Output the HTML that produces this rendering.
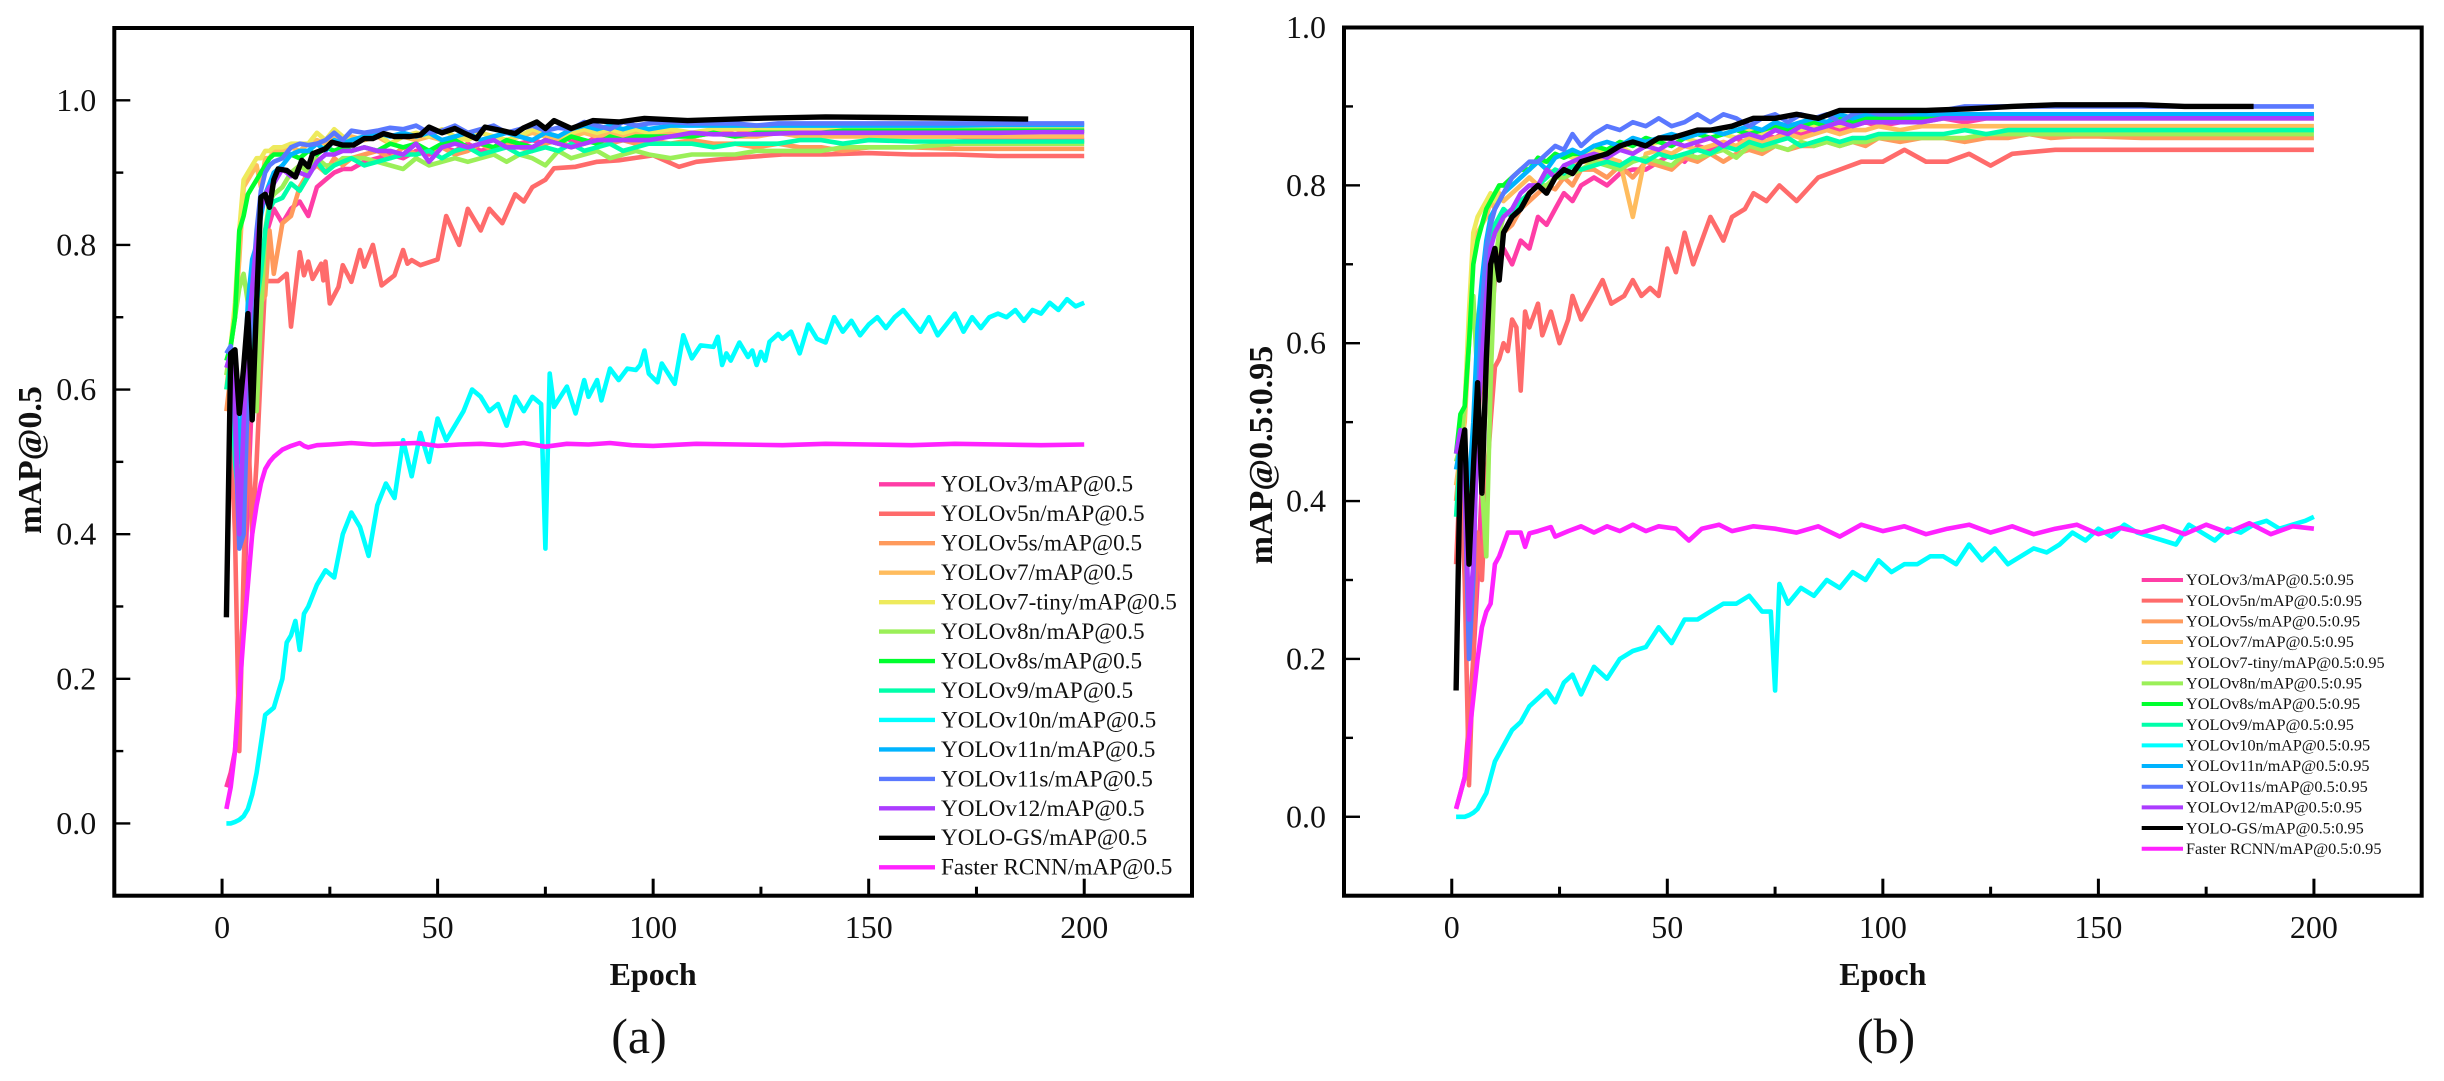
<!DOCTYPE html>
<html lang="en">
<head>
<meta charset="utf-8">
<title>mAP training curves</title>
<style>
html,body{margin:0;padding:0;background:#fff;}
svg{display:block;}
text{font-family:"Liberation Serif",serif;fill:#111;}
</style>
</head>
<body>
<svg id="figure" width="2444" height="1081" viewBox="0 0 2444 1081" xmlns="http://www.w3.org/2000/svg">
<rect width="2444" height="1081" fill="#fff"/>
<g id="panel-a"></g>
<g id="panel-b"></g>
</svg>
<script>
const seriesNames=['YOLOv3','YOLOv5n','YOLOv5s','YOLOv7','YOLOv7-tiny','YOLOv8n','YOLOv8s','YOLOv9','YOLOv10n','YOLOv11n','YOLOv11s','YOLOv12','YOLO-GS','Faster RCNN'];
const seriesColors=['#ff3da6','#ff6b6b','#ff9a5c','#ffbc5e','#eeea5c','#9bef58','#00ff2e','#00ffaa','#00ffff','#00b4ff','#5a78ff','#ac3cff','#000000','#ff22ff'];
const xTickValues=[0,50,100,150,200];
const xMinorValues=[25,75,125,175];
const yTicksA=[0,0.2,0.4,0.6,0.8,1.0];
const yMinorA=[0.1,0.3,0.5,0.7,0.9];
const yTicksB=[0,0.2,0.4,0.6,0.8,1.0];
const yMinorB=[0.1,0.3,0.5,0.7,0.9];

const sharedEpochs=[1,2,3,4,5,6,7,8,9,10,11,12,14,16,18,20,22,24,26,28,30,33,36,39,42,45,48,51,54,57,60,63,66,69,72,75,78,81,84,87,90,93,96,99,104,109,114,119,124,129,134,139,144,150,160,170,180,190,200];

/* Panel (a) mAP@0.5 */
const aV3=[.05,.07,.1,.2,.3,.45,.6,.7,.76,.81,.83,.85,.83,.85,.86,.84,.88,.89,.9,.905,.905,.915,.92,.925,.92,.93,.925,.935,.93,.94,.93,.935,.945,.94,.945,.94,.95,.945,.94,.95,.945,.95,.955,.95,.955,.95,.955,.96,.955,.955,.96,.96,.955,.95,.95,.95,.945,.945,.945];
const aV5nEpochs=[1,2,3,4,5,6,7,8,9,10,13,15,16,18,19,20,21,23,23.5,24,25,27,28,30,32,33,35,37,40,42,43,44,46,50,52,55,57,60,62,65,68,70,72,75,77,82,87,92,100,106,110,115,123,130,140,150,160,170,180,190,200];
const aV5n=[.3,.55,.4,.1,.35,.55,.4,.5,.63,.75,.75,.76,.687,.79,.758,.777,.753,.774,.751,.777,.719,.742,.772,.749,.793,.77,.8,.744,.758,.793,.774,.779,.772,.78,.84,.8,.85,.82,.85,.83,.87,.86,.88,.89,.906,.908,.915,.917,.924,.908,.915,.918,.922,.925,.925,.927,.925,.925,.923,.923,.923];
const aV5s=[.57,.62,.5,.42,.5,.6,.62,.66,.72,.73,.82,.76,.83,.84,.88,.9,.91,.9,.92,.91,.92,.925,.93,.92,.935,.925,.93,.935,.925,.93,.94,.93,.94,.935,.93,.94,.945,.935,.94,.945,.94,.945,.94,.945,.94,.945,.94,.94,.935,.94,.935,.935,.93,.935,.935,.933,.933,.933,.933];
const aV7=[.6,.66,.7,.78,.88,.89,.9,.91,.88,.92,.92,.93,.93,.935,.93,.94,.945,.94,.95,.945,.95,.945,.95,.94,.95,.945,.95,.945,.94,.95,.945,.95,.945,.95,.955,.95,.945,.95,.955,.95,.955,.95,.955,.95,.955,.95,.955,.95,.95,.955,.95,.95,.95,.95,.95,.95,.95,.95,.95];
const aTiny=[.62,.66,.72,.82,.89,.9,.91,.92,.92,.93,.93,.935,.935,.94,.94,.94,.955,.945,.96,.95,.945,.95,.955,.94,.95,.955,.95,.96,.95,.945,.955,.95,.945,.95,.96,.955,.95,.955,.96,.955,.96,.955,.96,.955,.96,.955,.96,.96,.96,.96,.96,.96,.96,.961,.961,.961,.961,.961,.961];
const aV8n=[.62,.66,.7,.74,.76,.72,.62,.57,.7,.82,.86,.87,.88,.9,.91,.9,.92,.91,.91,.92,.92,.92,.915,.91,.905,.92,.91,.915,.92,.915,.92,.925,.915,.925,.92,.91,.93,.92,.925,.93,.92,.925,.93,.925,.92,.925,.925,.925,.93,.93,.93,.93,.935,.935,.935,.94,.94,.94,.94];
const aV8s=[.64,.66,.7,.82,.84,.87,.88,.89,.9,.91,.92,.925,.925,.925,.92,.93,.925,.935,.93,.935,.93,.935,.93,.94,.935,.94,.93,.94,.945,.935,.94,.935,.945,.94,.935,.945,.94,.95,.945,.94,.95,.945,.95,.95,.95,.95,.955,.95,.955,.955,.955,.955,.958,.958,.958,.958,.958,.958,.958];
const aV9=[.6,.64,.5,.44,.56,.62,.66,.72,.76,.82,.85,.86,.865,.885,.875,.895,.915,.9,.91,.915,.92,.91,.915,.92,.925,.925,.93,.92,.93,.935,.925,.93,.935,.925,.93,.935,.93,.94,.93,.935,.94,.93,.935,.94,.94,.94,.935,.94,.94,.94,.945,.945,.94,.945,.943,.943,.943,.943,.943];
const aV10nEpochs=[1,2,3,4,5,6,7,8,9,10,11,12,13,14,15,16,17,18,19,20,22,24,26,28,30,32,34,36,38,40,42,44,46,48,50,52,54,56,58,60,62,64,66,68,70,72,74,75,76,77,80,82,84,85,87,88,90,92,94,96,97,98,99,101,102,105,107,109,111,114,115,116,117,118,120,122,123,124,125,126,127,129,130,132,134,136,138,140,142,144,146,148,150,152,154,156,158,160,162,164,166,168,170,172,174,176,178,180,182,184,186,188,190,192,194,196,198,200];
const aV10n=[0,0,.002,.005,.01,.02,.04,.07,.11,.15,.155,.16,.18,.2,.25,.26,.28,.24,.29,.3,.33,.35,.34,.4,.43,.41,.37,.44,.47,.45,.53,.48,.54,.5,.56,.53,.55,.57,.6,.59,.57,.58,.55,.59,.57,.59,.58,.38,.622,.576,.604,.567,.613,.59,.613,.585,.629,.613,.629,.627,.634,.654,.622,.61,.636,.608,.675,.643,.661,.659,.673,.634,.65,.64,.665,.645,.654,.634,.652,.64,.666,.677,.67,.68,.65,.69,.67,.665,.7,.68,.695,.675,.69,.7,.685,.7,.71,.695,.68,.7,.675,.69,.705,.68,.7,.685,.7,.705,.7,.71,.695,.71,.705,.72,.71,.725,.715,.72];
const aV11n=[.65,.66,.62,.5,.6,.72,.78,.8,.84,.87,.885,.9,.91,.925,.93,.93,.94,.93,.945,.94,.945,.95,.955,.95,.955,.95,.955,.945,.95,.955,.945,.95,.955,.95,.945,.955,.95,.96,.965,.96,.965,.96,.965,.96,.965,.965,.965,.965,.965,.965,.965,.965,.965,.965,.965,.965,.966,.966,.966];
const aV11s=[.65,.66,.55,.38,.4,.6,.74,.82,.875,.9,.91,.915,.92,.935,.94,.938,.94,.945,.955,.945,.958,.955,.958,.962,.96,.965,.955,.958,.965,.955,.96,.965,.955,.96,.965,.958,.962,.96,.97,.965,.96,.97,.965,.968,.97,.968,.968,.968,.965,.968,.968,.968,.968,.968,.968,.968,.968,.968,.968];
const aV12=[.63,.65,.58,.4,.55,.68,.74,.8,.85,.87,.88,.885,.905,.895,.9,.895,.915,.925,.925,.93,.93,.935,.93,.93,.925,.94,.915,.935,.94,.935,.94,.945,.935,.935,.935,.945,.94,.935,.94,.945,.945,.945,.945,.945,.95,.955,.953,.953,.953,.954,.955,.955,.955,.955,.955,.955,.955,.956,.956];
const aGsEpochs=[1,2,3,4,5,6,7,8,9,10,11,12,13,15,17,18.5,20,21,24,25.5,28,30.5,33,35,37.5,40,43.5,46,48,51,54,56,59,61,65,68,70,73,75,77,81,86,92,98,108,123,140,160,175,187];
const aGs=[.285,.65,.655,.567,.63,.705,.558,.72,.866,.87,.852,.89,.905,.903,.894,.917,.908,.926,.933,.942,.938,.938,.947,.947,.954,.95,.95,.952,.963,.955,.961,.955,.947,.963,.958,.954,.962,.97,.961,.972,.961,.972,.97,.975,.972,.975,.977,.976,.975,.974];
const aRcnnEpochs=[1,2,3,4,5,6,7,8,9,10,11,12,14,16,18,19,20,22,25,30,35,40,45,50,55,60,65,70,75,80,85,90,95,100,110,120,130,140,150,160,170,180,190,200];
const aRcnn=[.02,.05,.1,.18,.26,.33,.4,.44,.47,.49,.5,.507,.517,.522,.526,.522,.52,.523,.524,.526,.524,.525,.526,.522,.524,.525,.523,.526,.521,.525,.524,.526,.523,.522,.525,.524,.523,.525,.524,.523,.525,.524,.523,.524];

/* Panel (b) mAP@0.5:0.95 */
const bV3=[.01,.03,.05,.12,.2,.3,.42,.55,.62,.68,.7,.72,.7,.73,.72,.76,.75,.77,.79,.78,.8,.81,.8,.815,.82,.82,.83,.84,.83,.85,.845,.85,.86,.85,.865,.86,.87,.865,.87,.875,.87,.875,.88,.875,.88,.88,.885,.88,.885,.885,.885,.885,.885,.885,.885,.885,.885,.885,.885];
const bV5nEpochs=[1,2,3,4,5,6,7,8,9,10,11,12,13,14,15,16,17,18,20,21,23,25,27,28,30,33,35,37,40,42,44,46,48,50,52,54,56,58,60,63,65,68,70,73,76,80,85,90,95,100,105,110,115,120,125,130,140,150,170,200];
const bV5n=[.32,.44,.3,.04,.2,.36,.3,.42,.5,.57,.58,.6,.59,.63,.62,.54,.64,.62,.65,.61,.64,.6,.63,.66,.63,.66,.68,.65,.66,.68,.66,.67,.66,.72,.69,.74,.7,.73,.76,.73,.76,.77,.79,.78,.8,.78,.81,.82,.83,.83,.845,.83,.83,.84,.825,.84,.845,.845,.845,.845];
const bV5s=[.4,.46,.42,.34,.42,.5,.56,.6,.66,.7,.72,.74,.75,.77,.78,.79,.8,.795,.81,.8,.82,.82,.81,.825,.81,.83,.825,.82,.835,.83,.84,.83,.84,.845,.84,.85,.845,.85,.85,.855,.85,.855,.85,.86,.855,.86,.86,.855,.86,.86,.865,.86,.862,.862,.86,.86,.86,.86,.86];
const bV7=[.42,.46,.5,.6,.72,.74,.75,.76,.78,.77,.79,.78,.79,.8,.81,.8,.82,.815,.82,.825,.83,.83,.835,.83,.76,.84,.845,.84,.85,.845,.85,.855,.85,.86,.855,.86,.865,.86,.865,.87,.865,.87,.87,.875,.87,.875,.875,.875,.875,.875,.875,.875,.875,.875,.875,.875,.875,.875,.875];
const bTiny=[.44,.46,.52,.64,.74,.76,.77,.78,.79,.78,.8,.8,.81,.82,.82,.83,.83,.835,.84,.835,.84,.845,.84,.85,.84,.85,.855,.85,.86,.855,.86,.865,.86,.87,.865,.87,.875,.87,.875,.88,.875,.88,.88,.885,.885,.88,.885,.885,.885,.885,.885,.885,.885,.885,.885,.885,.885,.885,.885];
const bV8n=[.45,.47,.52,.6,.66,.55,.42,.33,.55,.7,.74,.76,.77,.78,.79,.8,.8,.81,.81,.815,.82,.83,.825,.82,.83,.835,.83,.825,.84,.835,.84,.845,.835,.85,.845,.85,.845,.855,.85,.855,.85,.855,.855,.86,.86,.86,.86,.86,.865,.865,.865,.865,.865,.865,.865,.865,.865,.865,.865];
const bV8s=[.46,.51,.52,.6,.7,.73,.75,.77,.78,.79,.8,.8,.81,.82,.82,.835,.83,.84,.835,.84,.84,.85,.845,.855,.85,.86,.855,.85,.86,.865,.86,.865,.87,.865,.87,.875,.87,.875,.88,.875,.885,.88,.885,.885,.885,.885,.89,.89,.89,.89,.89,.89,.89,.89,.89,.89,.89,.89,.89];
const bV9=[.38,.46,.42,.4,.46,.55,.62,.68,.72,.75,.76,.77,.76,.78,.79,.8,.81,.82,.815,.825,.82,.825,.83,.825,.835,.83,.84,.835,.84,.845,.84,.85,.845,.855,.85,.855,.86,.85,.855,.86,.855,.86,.86,.865,.865,.865,.865,.87,.865,.87,.87,.87,.87,.87,.87,.87,.87,.87,.87];
const bV10nEpochs=[1,2,3,4,5,6,7,8,9,10,12,14,16,18,20,22,24,26,28,30,33,36,39,42,45,48,51,54,57,60,63,66,69,72,74,75,76,78,81,84,87,90,93,96,99,102,105,108,111,114,117,120,123,126,129,132,135,138,141,144,147,150,153,156,159,162,165,168,171,174,177,180,183,186,189,192,195,198,200];
const bV10n=[0,0,0,.002,.005,.01,.02,.03,.05,.07,.09,.11,.12,.14,.15,.16,.145,.17,.18,.155,.19,.175,.2,.21,.215,.24,.22,.25,.25,.26,.27,.27,.28,.26,.26,.16,.295,.27,.29,.28,.3,.29,.31,.3,.325,.31,.32,.32,.33,.33,.32,.345,.325,.34,.32,.33,.34,.335,.345,.36,.35,.365,.355,.37,.36,.355,.35,.345,.37,.36,.35,.365,.36,.37,.375,.365,.37,.375,.38];
const bV11n=[.44,.47,.46,.42,.5,.62,.68,.73,.76,.77,.78,.79,.8,.81,.82,.83,.82,.835,.84,.845,.84,.85,.855,.85,.86,.855,.86,.865,.86,.865,.87,.865,.87,.875,.87,.88,.875,.88,.885,.88,.89,.885,.89,.89,.89,.89,.89,.89,.89,.89,.89,.89,.89,.89,.89,.89,.89,.89,.89];
const bV11s=[.46,.48,.42,.2,.3,.52,.64,.72,.75,.77,.78,.79,.81,.82,.83,.83,.84,.85,.845,.865,.85,.865,.875,.87,.88,.875,.885,.875,.88,.89,.88,.89,.885,.875,.885,.89,.88,.89,.885,.89,.88,.89,.895,.89,.89,.895,.895,.9,.9,.9,.9,.9,.9,.9,.9,.9,.9,.9,.9];
const bV12=[.46,.49,.42,.25,.32,.5,.58,.66,.72,.74,.75,.76,.77,.79,.8,.8,.82,.81,.825,.83,.835,.84,.835,.845,.84,.85,.845,.855,.85,.855,.86,.85,.86,.865,.86,.87,.865,.875,.87,.875,.88,.875,.88,.88,.88,.88,.885,.885,.885,.885,.885,.885,.885,.885,.885,.885,.885,.885,.885];
const bGsEpochs=[1,2,3,4,5,6,7,8,9,10,11,12,14,16,18,20,22,24,26,28,30,33,36,39,42,45,48,51,54,57,60,65,70,75,80,85,90,100,110,120,130,140,150,160,170,186];
const bGs=[.16,.46,.49,.32,.44,.55,.41,.58,.7,.72,.68,.74,.76,.77,.79,.8,.79,.81,.82,.815,.83,.835,.84,.85,.855,.85,.86,.86,.865,.87,.87,.875,.885,.885,.89,.885,.895,.895,.895,.897,.9,.902,.902,.902,.9,.9];
const bRcnnEpochs=[1,2,3,4,5,6,7,8,9,10,11,12,13,14,16,17,18,20,23,24,27,30,33,36,39,42,45,48,52,55,58,62,65,70,75,80,85,90,95,100,105,110,115,120,125,130,135,140,145,150,155,160,165,170,175,180,185,190,195,200];
const bRcnn=[.01,.03,.05,.1,.15,.2,.24,.26,.27,.32,.33,.345,.36,.36,.36,.342,.359,.362,.367,.355,.362,.368,.36,.368,.362,.37,.362,.368,.365,.35,.365,.37,.362,.368,.365,.36,.368,.355,.37,.362,.368,.358,.365,.37,.36,.368,.358,.365,.37,.358,.366,.36,.368,.358,.37,.36,.372,.358,.368,.365];

const aEpochSets=[sharedEpochs,aV5nEpochs,sharedEpochs,sharedEpochs,sharedEpochs,sharedEpochs,sharedEpochs,sharedEpochs,aV10nEpochs,sharedEpochs,sharedEpochs,sharedEpochs,aGsEpochs,aRcnnEpochs];
const aValueSets=[aV3,aV5n,aV5s,aV7,aTiny,aV8n,aV8s,aV9,aV10n,aV11n,aV11s,aV12,aGs,aRcnn];
const bEpochSets=[sharedEpochs,bV5nEpochs,sharedEpochs,sharedEpochs,sharedEpochs,sharedEpochs,sharedEpochs,sharedEpochs,bV10nEpochs,sharedEpochs,sharedEpochs,sharedEpochs,bGsEpochs,bRcnnEpochs];
const bValueSets=[bV3,bV5n,bV5s,bV7,bTiny,bV8n,bV8s,bV9,bV10n,bV11n,bV11s,bV12,bGs,bRcnn];

const SVGNS='http://www.w3.org/2000/svg';
function node(parent,tag,attrs,txt){
  const el=document.createElementNS(SVGNS,tag);
  for(const k in attrs){el.setAttribute(k,attrs[k]);}
  if(txt!==undefined){el.textContent=txt;}
  parent.appendChild(el);
  return el;
}
function drawPanel(cfg){
  const g=document.getElementById(cfg.id);
  const sx=v=>cfg.left+(v-cfg.xMin)/(cfg.xMax-cfg.xMin)*(cfg.right-cfg.left);
  const sy=v=>cfg.bottom-(v-cfg.yMin)/(cfg.yMax-cfg.yMin)*(cfg.bottom-cfg.top);

  cfg.values.forEach((vals,i)=>{
    const xs=cfg.epochs[i];
    const pts=vals.map((v,j)=>sx(xs[j]).toFixed(1)+','+sy(v).toFixed(1)).join(' ');
    const line=node(g,'polyline',{points:pts,fill:'none',stroke:seriesColors[i],'stroke-width':i===12?5.4:4.6,'stroke-linejoin':'round','stroke-linecap':'butt'});
    
    
  });

  const frame=node(g,'rect',{x:cfg.left,y:cfg.top,width:cfg.right-cfg.left,height:cfg.bottom-cfg.top,fill:'none',stroke:'#000','stroke-width':4});
  
  

  cfg.yTicks.forEach(v=>{
    const t=node(g,'line',{x1:cfg.left,x2:cfg.left+16,y1:sy(v),y2:sy(v),stroke:'#000','stroke-width':2.4});
    
    
    const l=node(g,'text',{x:cfg.left-18,y:sy(v)+10.5,'text-anchor':'end','font-size':32},v.toFixed(1));
    
    
  });
  cfg.yMinor.forEach(v=>{
    const t=node(g,'line',{x1:cfg.left,x2:cfg.left+9,y1:sy(v),y2:sy(v),stroke:'#000','stroke-width':2.4});
    
    
  });
  xTickValues.forEach(v=>{
    const t=node(g,'line',{x1:sx(v),x2:sx(v),y1:cfg.bottom,y2:cfg.bottom-17,stroke:'#000','stroke-width':3});
    
    
    const l=node(g,'text',{x:sx(v),y:938,'text-anchor':'middle','font-size':32},String(v));
    
    
  });
  xMinorValues.forEach(v=>{
    const t=node(g,'line',{x1:sx(v),x2:sx(v),y1:cfg.bottom,y2:cfg.bottom-9,stroke:'#000','stroke-width':3});
    
    
  });

  const xt=node(g,'text',{x:(cfg.left+cfg.right)/2,y:985,'text-anchor':'middle','font-size':32,'font-weight':'bold'},'Epoch');
  
  
  const yt=node(g,'text',{transform:'translate('+cfg.yTitleX+','+cfg.yTitleY+') rotate(-90)','text-anchor':'middle','font-size':34,'font-weight':'bold'},cfg.metric);
  
  
  const cap=node(g,'text',{x:cfg.captionX,y:1053,'text-anchor':'middle','font-size':50},cfg.caption);
  
  

  const leg=node(g,'g',{});
  
  
  seriesNames.forEach((n,i)=>{
    const y=cfg.legY+i*cfg.legStep;
    const s=node(leg,'line',{x1:cfg.legX1,x2:cfg.legX2,y1:y,y2:y,stroke:seriesColors[i],'stroke-width':cfg.legStroke});
    
    
    const t=node(leg,'text',{x:cfg.legText,y:y+cfg.legFont*0.32,'font-size':cfg.legFont},n+'/'+cfg.metric);
    
    
  });
}
drawPanel({id:'panel-a',left:114.3,right:1192,top:28,bottom:895.7,xMin:-25,xMax:225,yMin:-0.1,yMax:1.1,
  yTicks:yTicksA,yMinor:yMinorA,epochs:aEpochSets,values:aValueSets,metric:'mAP@0.5',caption:'(a)',captionX:639,
  yTitleX:41,yTitleY:460,legX1:879,legX2:935,legText:941,legY:484.3,legStep:29.46,legFont:23.2,legStroke:4.4});
drawPanel({id:'panel-b',left:1344,right:2421.7,top:27.5,bottom:895.7,xMin:-25,xMax:225,yMin:-0.1,yMax:1.0,
  yTicks:yTicksB,yMinor:yMinorB,epochs:bEpochSets,values:bValueSets,metric:'mAP@0.5:0.95',caption:'(b)',captionX:1886,
  yTitleX:1272,yTitleY:455,legX1:2141.7,legX2:2183,legText:2186,legY:580,legStep:20.67,legFont:16.3,legStroke:4});
</script>
</body>
</html>
